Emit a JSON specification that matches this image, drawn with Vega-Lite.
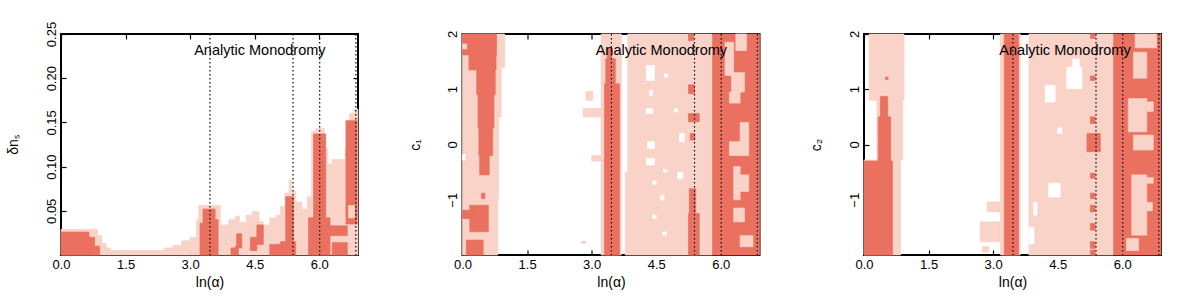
{
"$schema": "https://vega.github.io/schema/vega-lite/v6.json",
"padding": {"left": 5, "top": 20, "right": 5, "bottom": 5},
"datasets": {
"cells": [
{"p":"a","x":0,"x2":0.85,"y":0,"y2":0.029,"v":1},
{"p":"a","x":0.85,"x2":0.95,"y":0,"y2":0.022,"v":1},
{"p":"a","x":0.95,"x2":1.05,"y":0,"y2":0.013,"v":1},
{"p":"a","x":1.05,"x2":1.15,"y":0,"y2":0.008,"v":1},
{"p":"a","x":1.15,"x2":2.4,"y":0,"y2":0.005,"v":1},
{"p":"a","x":2.4,"x2":2.6,"y":0,"y2":0.008,"v":1},
{"p":"a","x":2.6,"x2":2.8,"y":0,"y2":0.011,"v":1},
{"p":"a","x":2.8,"x2":3.0,"y":0,"y2":0.016,"v":1},
{"p":"a","x":3.0,"x2":3.15,"y":0,"y2":0.02,"v":1},
{"p":"a","x":3.15,"x2":3.2,"y":0,"y2":0.04,"v":1},
{"p":"a","x":3.2,"x2":3.7,"y":0,"y2":0.056,"v":1},
{"p":"a","x":3.7,"x2":3.9,"y":0,"y2":0.034,"v":1},
{"p":"a","x":3.9,"x2":4.05,"y":0,"y2":0.04,"v":1},
{"p":"a","x":4.05,"x2":4.15,"y":0,"y2":0.044,"v":1},
{"p":"a","x":4.15,"x2":4.3,"y":0,"y2":0.037,"v":1},
{"p":"a","x":4.3,"x2":4.45,"y":0,"y2":0.045,"v":1},
{"p":"a","x":4.45,"x2":4.6,"y":0,"y2":0.049,"v":1},
{"p":"a","x":4.6,"x2":4.7,"y":0,"y2":0.038,"v":1},
{"p":"a","x":4.7,"x2":4.85,"y":0,"y2":0.034,"v":1},
{"p":"a","x":4.85,"x2":5.0,"y":0,"y2":0.042,"v":1},
{"p":"a","x":5.0,"x2":5.1,"y":0,"y2":0.045,"v":1},
{"p":"a","x":5.1,"x2":5.2,"y":0,"y2":0.055,"v":1},
{"p":"a","x":5.2,"x2":5.3,"y":0,"y2":0.07,"v":1},
{"p":"a","x":5.3,"x2":5.36,"y":0,"y2":0.085,"v":1},
{"p":"a","x":5.36,"x2":5.45,"y":0,"y2":0.072,"v":1},
{"p":"a","x":5.45,"x2":5.6,"y":0,"y2":0.06,"v":1},
{"p":"a","x":5.6,"x2":5.72,"y":0,"y2":0.052,"v":1},
{"p":"a","x":5.72,"x2":5.82,"y":0,"y2":0.066,"v":1},
{"p":"a","x":5.82,"x2":5.92,"y":0,"y2":0.14,"v":1},
{"p":"a","x":5.92,"x2":6.12,"y":0,"y2":0.143,"v":1},
{"p":"a","x":6.12,"x2":6.2,"y":0,"y2":0.12,"v":1},
{"p":"a","x":6.2,"x2":6.3,"y":0,"y2":0.103,"v":1},
{"p":"a","x":6.3,"x2":6.6,"y":0,"y2":0.108,"v":1},
{"p":"a","x":6.6,"x2":6.7,"y":0,"y2":0.12,"v":1},
{"p":"a","x":6.7,"x2":6.8,"y":0,"y2":0.16,"v":1},
{"p":"a","x":6.8,"x2":6.9,"y":0,"y2":0.165,"v":1},
{"p":"a","x":0,"x2":0.65,"y":0,"y2":0.026,"v":2},
{"p":"a","x":0.65,"x2":0.78,"y":0,"y2":0.02,"v":2},
{"p":"a","x":0.78,"x2":0.9,"y":0,"y2":0.01,"v":2},
{"p":"a","x":3.23,"x2":3.3,"y":0,"y2":0.036,"v":2},
{"p":"a","x":3.3,"x2":3.58,"y":0,"y2":0.052,"v":2},
{"p":"a","x":3.58,"x2":3.65,"y":0,"y2":0.04,"v":2},
{"p":"a","x":3.95,"x2":4.05,"y":0,"y2":0.008,"v":2},
{"p":"a","x":4.05,"x2":4.12,"y":0,"y2":0.01,"v":2},
{"p":"a","x":4.08,"x2":4.2,"y":0.008,"y2":0.024,"v":2},
{"p":"a","x":4.4,"x2":4.55,"y":0.005,"y2":0.02,"v":2},
{"p":"a","x":4.55,"x2":4.7,"y":0.012,"y2":0.034,"v":2},
{"p":"a","x":4.85,"x2":5.1,"y":0,"y2":0.012,"v":2},
{"p":"a","x":5.22,"x2":5.4,"y":0.012,"y2":0.066,"v":2},
{"p":"a","x":5.1,"x2":5.45,"y":0,"y2":0.015,"v":2},
{"p":"a","x":5.87,"x2":6.15,"y":0.04,"y2":0.137,"v":2},
{"p":"a","x":5.75,"x2":6.25,"y":0,"y2":0.042,"v":2},
{"p":"a","x":6.62,"x2":6.88,"y":0.035,"y2":0.152,"v":2},
{"p":"a","x":6.15,"x2":6.65,"y":0.022,"y2":0.033,"v":2},
{"p":"a","x":6.3,"x2":6.65,"y":0,"y2":0.014,"v":2},
{"p":"a","x":6.68,"x2":6.82,"y":0.042,"y2":0.056,"v":3},
{"p":"b","x":0,"x2":0.98,"y":1.4,"y2":2,"v":1},
{"p":"b","x":0,"x2":0.9,"y":0.5,"y2":1.4,"v":1},
{"p":"b","x":0,"x2":0.84,"y":-1,"y2":0.5,"v":1},
{"p":"b","x":0,"x2":0.82,"y":-2,"y2":-1,"v":1},
{"p":"b","x":2.87,"x2":3.03,"y":0.8,"y2":0.96,"v":1},
{"p":"b","x":2.8,"x2":3.22,"y":0.5,"y2":0.65,"v":1},
{"p":"b","x":3.0,"x2":3.22,"y":-0.3,"y2":-0.2,"v":1},
{"p":"b","x":2.76,"x2":2.87,"y":-1.79,"y2":-1.75,"v":1},
{"p":"b","x":3.22,"x2":3.69,"y":-2,"y2":2,"v":1},
{"p":"b","x":3.84,"x2":5.81,"y":-2,"y2":2,"v":1},
{"p":"b","x":3.78,"x2":3.84,"y":-2,"y2":-0.5,"v":1},
{"p":"b","x":0,"x2":0.06,"y":-0.28,"y2":-0.18,"v":0},
{"p":"b","x":4.27,"x2":4.46,"y":1.16,"y2":1.43,"v":0},
{"p":"b","x":4.69,"x2":4.77,"y":1.22,"y2":1.28,"v":0},
{"p":"b","x":4.34,"x2":4.42,"y":0.89,"y2":0.98,"v":0},
{"p":"b","x":4.27,"x2":4.42,"y":0.56,"y2":0.65,"v":0},
{"p":"b","x":4.92,"x2":5.0,"y":0.59,"y2":0.65,"v":0},
{"p":"b","x":5.04,"x2":5.15,"y":0.05,"y2":0.2,"v":0},
{"p":"b","x":4.3,"x2":4.46,"y":-0.07,"y2":0.05,"v":0},
{"p":"b","x":4.27,"x2":4.46,"y":-0.37,"y2":-0.25,"v":0},
{"p":"b","x":5.0,"x2":5.12,"y":-0.62,"y2":-0.5,"v":0},
{"p":"b","x":4.42,"x2":4.5,"y":-0.72,"y2":-0.66,"v":0},
{"p":"b","x":4.67,"x2":4.75,"y":-0.5,"y2":-0.45,"v":0},
{"p":"b","x":4.6,"x2":4.68,"y":-1.0,"y2":-0.92,"v":0},
{"p":"b","x":4.42,"x2":4.5,"y":-1.34,"y2":-1.28,"v":0},
{"p":"b","x":4.65,"x2":4.73,"y":-1.64,"y2":-1.58,"v":0},
{"p":"b","x":0,"x2":0.79,"y":1.62,"y2":2,"v":2},
{"p":"b","x":0.15,"x2":0.78,"y":1.35,"y2":1.62,"v":2},
{"p":"b","x":0.33,"x2":0.76,"y":0.9,"y2":1.35,"v":2},
{"p":"b","x":0.36,"x2":0.73,"y":0.3,"y2":0.9,"v":2},
{"p":"b","x":0.38,"x2":0.7,"y":-0.2,"y2":0.3,"v":2},
{"p":"b","x":0.4,"x2":0.62,"y":-0.55,"y2":-0.2,"v":2},
{"p":"b","x":0.17,"x2":0.6,"y":-1.58,"y2":-1.1,"v":2},
{"p":"b","x":0,"x2":0.25,"y":-1.34,"y2":-1.19,"v":2},
{"p":"b","x":0.44,"x2":0.52,"y":-0.98,"y2":-0.88,"v":2},
{"p":"b","x":0.09,"x2":0.48,"y":-2,"y2":-1.73,"v":2},
{"p":"b","x":3.36,"x2":3.47,"y":1.55,"y2":1.75,"v":2},
{"p":"b","x":3.33,"x2":3.55,"y":1.1,"y2":1.55,"v":2},
{"p":"b","x":3.3,"x2":3.65,"y":-2,"y2":1.1,"v":2},
{"p":"b","x":5.25,"x2":5.37,"y":1.88,"y2":2,"v":2},
{"p":"b","x":5.25,"x2":5.39,"y":0.92,"y2":1.08,"v":2},
{"p":"b","x":5.25,"x2":5.5,"y":0.41,"y2":0.56,"v":2},
{"p":"b","x":5.29,"x2":5.4,"y":0.08,"y2":0.2,"v":2},
{"p":"b","x":5.27,"x2":5.42,"y":-1.25,"y2":-0.8,"v":2},
{"p":"b","x":5.25,"x2":5.5,"y":-2,"y2":-1.25,"v":2},
{"p":"b","x":5.81,"x2":6.9,"y":-2,"y2":2,"v":2},
{"p":"b","x":0,"x2":0.1,"y":1.73,"y2":1.82,"v":3},
{"p":"b","x":6.1,"x2":6.3,"y":1.25,"y2":1.85,"v":3},
{"p":"b","x":6.25,"x2":6.55,"y":0.95,"y2":1.3,"v":3},
{"p":"b","x":6.2,"x2":6.45,"y":0.75,"y2":0.95,"v":3},
{"p":"b","x":6.45,"x2":6.65,"y":0.05,"y2":0.4,"v":3},
{"p":"b","x":6.2,"x2":6.65,"y":-0.2,"y2":0.05,"v":3},
{"p":"b","x":6.3,"x2":6.45,"y":-1.0,"y2":-0.4,"v":3},
{"p":"b","x":6.45,"x2":6.65,"y":-0.85,"y2":-0.55,"v":3},
{"p":"b","x":6.3,"x2":6.55,"y":-1.4,"y2":-1.15,"v":3},
{"p":"b","x":6.45,"x2":6.75,"y":-1.85,"y2":-1.65,"v":3},
{"p":"b","x":6.35,"x2":6.6,"y":1.7,"y2":2,"v":3},
{"p":"c","x":0.12,"x2":0.93,"y":0.8,"y2":2,"v":1},
{"p":"c","x":0.3,"x2":0.9,"y":-0.28,"y2":0.8,"v":1},
{"p":"c","x":0,"x2":0.85,"y":-2,"y2":-0.28,"v":1},
{"p":"c","x":2.7,"x2":3.17,"y":-1.76,"y2":-1.4,"v":1},
{"p":"c","x":2.86,"x2":3.17,"y":-1.22,"y2":-1.04,"v":1},
{"p":"c","x":2.75,"x2":2.9,"y":-1.95,"y2":-1.85,"v":1},
{"p":"c","x":3.17,"x2":3.63,"y":-2,"y2":2,"v":1},
{"p":"c","x":3.83,"x2":5.8,"y":-2,"y2":2,"v":1},
{"p":"c","x":4.71,"x2":5.06,"y":1.01,"y2":1.4,"v":0},
{"p":"c","x":4.85,"x2":5.0,"y":1.4,"y2":1.55,"v":0},
{"p":"c","x":4.21,"x2":4.44,"y":0.77,"y2":1.07,"v":0},
{"p":"c","x":4.29,"x2":4.56,"y":-0.95,"y2":-0.7,"v":0},
{"p":"c","x":3.94,"x2":4.02,"y":-1.28,"y2":-1.05,"v":0},
{"p":"c","x":3.83,"x2":3.95,"y":-1.8,"y2":-1.5,"v":0},
{"p":"c","x":4.5,"x2":4.6,"y":0.2,"y2":0.3,"v":0},
{"p":"c","x":0,"x2":0.66,"y":-2,"y2":-0.3,"v":2},
{"p":"c","x":0.33,"x2":0.62,"y":-0.3,"y2":0.5,"v":2},
{"p":"c","x":0.38,"x2":0.55,"y":0.5,"y2":0.87,"v":2},
{"p":"c","x":0.5,"x2":0.56,"y":1.18,"y2":1.22,"v":2},
{"p":"c","x":3.26,"x2":3.59,"y":-2,"y2":2,"v":2},
{"p":"c","x":5.26,"x2":5.37,"y":1.92,"y2":2,"v":2},
{"p":"c","x":5.26,"x2":5.37,"y":1.16,"y2":1.24,"v":2},
{"p":"c","x":5.26,"x2":5.37,"y":0.38,"y2":0.5,"v":2},
{"p":"c","x":5.18,"x2":5.49,"y":-0.13,"y2":0.2,"v":2},
{"p":"c","x":5.26,"x2":5.37,"y":-0.61,"y2":-0.52,"v":2},
{"p":"c","x":5.26,"x2":5.37,"y":-0.98,"y2":-0.88,"v":2},
{"p":"c","x":5.26,"x2":5.37,"y":-1.22,"y2":-1.1,"v":2},
{"p":"c","x":5.26,"x2":5.37,"y":-1.55,"y2":-1.43,"v":2},
{"p":"c","x":5.26,"x2":5.37,"y":-1.88,"y2":-1.76,"v":2},
{"p":"c","x":5.26,"x2":5.37,"y":-2,"y2":-1.91,"v":2},
{"p":"c","x":5.8,"x2":6.9,"y":-2,"y2":2,"v":2},
{"p":"c","x":6.3,"x2":6.8,"y":1.75,"y2":2,"v":3},
{"p":"c","x":6.26,"x2":6.57,"y":1.2,"y2":1.67,"v":3},
{"p":"c","x":6.14,"x2":6.57,"y":0.23,"y2":0.83,"v":3},
{"p":"c","x":6.57,"x2":6.72,"y":0.6,"y2":0.77,"v":3},
{"p":"c","x":6.26,"x2":6.72,"y":-0.1,"y2":0.17,"v":3},
{"p":"c","x":6.22,"x2":6.57,"y":-1.64,"y2":-0.55,"v":3},
{"p":"c","x":6.57,"x2":6.72,"y":-0.7,"y2":-0.6,"v":3},
{"p":"c","x":6.57,"x2":6.7,"y":-1.2,"y2":-1.05,"v":3},
{"p":"c","x":6.1,"x2":6.38,"y":-1.92,"y2":-1.7,"v":3}
],
"lines": [{"m":3.46},{"m":5.39},{"m":6.01},{"m":6.85}],
"label": [{"t":"Analytic Monodromy"}]
},
"spacing": 104.5,
"bounds": "flush",
"hconcat": [
{
"width": 297, "height": 221,
"resolve": {"axis": {"x": "independent", "y": "independent"}},
"layer": [
{"data": {"name": "cells"}, "transform": [{"filter": "datum.p === 'a'"}],
 "mark": {"type": "rect", "strokeWidth": 0.7},
 "encoding": {
  "x": {"field": "x", "type": "quantitative", "scale": {"domain": [0, 6.9], "nice": false, "zero": false}, "axis": {"values": [0, 1.5, 3, 4.5, 6], "format": ".1f", "title": "ln(α)"}},
  "x2": {"field": "x2"},
  "y": {"field": "y", "type": "quantitative", "scale": {"domain": [0, 0.25], "nice": false, "zero": false}, "axis": {"values": [0.05, 0.1, 0.15, 0.2, 0.25], "format": ".2f", "title": "δnₛ"}},
  "y2": {"field": "y2"},
  "color": {"field": "v", "type": "nominal", "scale": {"domain": [0, 1, 2, 3], "range": ["#ffffff", "#f9d3c8", "#ea705f", "#f9d3c8"]}, "legend": null},
  "stroke": {"field": "v", "type": "nominal", "scale": {"domain": [0, 1, 2, 3], "range": ["#ffffff", "#f9d3c8", "#ea705f", "#f9d3c8"]}, "legend": null}
 }},
{"data": {"name": "lines"}, "mark": {"type": "rule", "color": "black", "strokeDash": [1.5, 2.5], "strokeWidth": 1.2},
 "encoding": {"x": {"field": "m", "type": "quantitative", "axis": null}}},
{"data": {"name": "label"}, "mark": {"type": "text", "font": "Liberation Sans", "fontSize": 14.5, "color": "black"},
 "encoding": {"x": {"datum": 4.62, "type": "quantitative", "axis": {"orient": "top", "values": [0, 1.5, 3, 4.5, 6], "labels": false, "title": null}}, "y": {"datum": 0.231, "type": "quantitative", "axis": {"orient": "right", "values": [0.05, 0.1, 0.15, 0.2, 0.25], "labels": false, "title": null}}, "text": {"field": "t"}}}
]
},
{
"width": 297, "height": 221,
"resolve": {"axis": {"x": "independent", "y": "independent"}},
"layer": [
{"data": {"name": "cells"}, "transform": [{"filter": "datum.p === 'b'"}],
 "mark": {"type": "rect", "strokeWidth": 0.7},
 "encoding": {
  "x": {"field": "x", "type": "quantitative", "scale": {"domain": [0, 6.9], "nice": false, "zero": false}, "axis": {"values": [0, 1.5, 3, 4.5, 6], "format": ".1f", "title": "ln(α)"}},
  "x2": {"field": "x2"},
  "y": {"field": "y", "type": "quantitative", "scale": {"domain": [-2, 2], "nice": false, "zero": false}, "axis": {"values": [-1, 0, 1, 2], "format": "d", "title": "c₁"}},
  "y2": {"field": "y2"},
  "color": {"field": "v", "type": "nominal", "scale": {"domain": [0, 1, 2, 3], "range": ["#ffffff", "#f9d3c8", "#ea705f", "#f9d3c8"]}, "legend": null},
  "stroke": {"field": "v", "type": "nominal", "scale": {"domain": [0, 1, 2, 3], "range": ["#ffffff", "#f9d3c8", "#ea705f", "#f9d3c8"]}, "legend": null}
 }},
{"data": {"name": "lines"}, "mark": {"type": "rule", "color": "black", "strokeDash": [1.5, 2.5], "strokeWidth": 1.2},
 "encoding": {"x": {"field": "m", "type": "quantitative", "axis": null}}},
{"data": {"name": "label"}, "mark": {"type": "text", "font": "Liberation Sans", "fontSize": 14.5, "color": "black"},
 "encoding": {"x": {"datum": 4.62, "type": "quantitative", "axis": {"orient": "top", "values": [0, 1.5, 3, 4.5, 6], "labels": false, "title": null}}, "y": {"datum": 1.69, "type": "quantitative", "axis": {"orient": "right", "values": [-1, 0, 1, 2], "labels": false, "title": null}}, "text": {"field": "t"}}}
]
},
{
"width": 297, "height": 221,
"resolve": {"axis": {"x": "independent", "y": "independent"}},
"layer": [
{"data": {"name": "cells"}, "transform": [{"filter": "datum.p === 'c'"}],
 "mark": {"type": "rect", "strokeWidth": 0.7},
 "encoding": {
  "x": {"field": "x", "type": "quantitative", "scale": {"domain": [0, 6.9], "nice": false, "zero": false}, "axis": {"values": [0, 1.5, 3, 4.5, 6], "format": ".1f", "title": "ln(α)"}},
  "x2": {"field": "x2"},
  "y": {"field": "y", "type": "quantitative", "scale": {"domain": [-2, 2], "nice": false, "zero": false}, "axis": {"values": [-1, 0, 1, 2], "format": "d", "title": "c₂"}},
  "y2": {"field": "y2"},
  "color": {"field": "v", "type": "nominal", "scale": {"domain": [0, 1, 2, 3], "range": ["#ffffff", "#f9d3c8", "#ea705f", "#f9d3c8"]}, "legend": null},
  "stroke": {"field": "v", "type": "nominal", "scale": {"domain": [0, 1, 2, 3], "range": ["#ffffff", "#f9d3c8", "#ea705f", "#f9d3c8"]}, "legend": null}
 }},
{"data": {"name": "lines"}, "mark": {"type": "rule", "color": "black", "strokeDash": [1.5, 2.5], "strokeWidth": 1.2},
 "encoding": {"x": {"field": "m", "type": "quantitative", "axis": null}}},
{"data": {"name": "label"}, "mark": {"type": "text", "font": "Liberation Sans", "fontSize": 14.5, "color": "black"},
 "encoding": {"x": {"datum": 4.67, "type": "quantitative", "axis": {"orient": "top", "values": [0, 1.5, 3, 4.5, 6], "labels": false, "title": null}}, "y": {"datum": 1.69, "type": "quantitative", "axis": {"orient": "right", "values": [-1, 0, 1, 2], "labels": false, "title": null}}, "text": {"field": "t"}}}
]
}
],
"config": {
 "view": {"stroke": "black", "strokeWidth": 2},
 "axis": {"domain": false, "grid": false, "tickColor": "black", "tickSize": -5, "tickWidth": 1.2, "labelFlush": false, "labelFont": "Liberation Sans", "labelFontSize": 13, "labelColor": "black", "labelPadding": 8, "titleFont": "Liberation Sans", "titleFontSize": 14, "titleFontWeight": "normal", "titleColor": "black"},
 "axisY": {"labelAngle": 270, "labelAlign": "center", "labelBaseline": "bottom", "titlePadding": 24.5},
 "axisX": {"titlePadding": 4}
}
}
